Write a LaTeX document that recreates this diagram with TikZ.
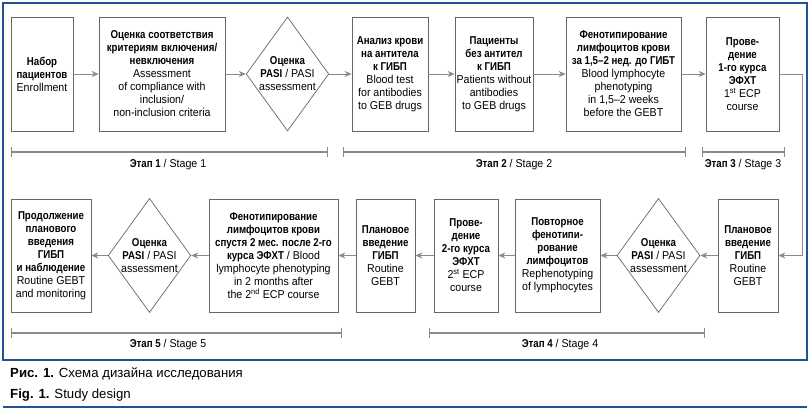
\documentclass[tikz,border=0pt]{standalone}
\usepackage{fontspec}
\setmainfont{Liberation Sans}[FakeStretch=0.93, BoldFeatures={FakeStretch=0.85}]
\newfontfamily\capfont{Liberation Sans}
\usepackage{tikz}
\usetikzlibrary{arrows.meta,shapes.geometric,calc}

\definecolor{frameblue}{HTML}{1F5493}
\definecolor{boxgray}{HTML}{666666}
\definecolor{arrgray}{HTML}{8A8A8A}

\tikzset{
  stepbox/.style={draw=boxgray, line width=0.7pt, align=center, inner sep=0pt,
    minimum height=114pt, font=\fontsize{11.4}{13}\selectfont},
  pasi/.style={draw=boxgray, line width=0.7pt, diamond, align=center, inner sep=-2pt,
    minimum width=81pt, minimum height=114pt, font=\fontsize{11.4}{13}\selectfont},
  flow/.style={draw=arrgray, line width=0.9pt, -{Stealth[length=7pt,width=6pt]}},
  stagebar/.style={draw=arrgray, line width=1.3pt, {Bar[width=10pt]}-{Bar[width=10pt]}},
  stagetext/.style={font=\fontsize{11.4}{13}\selectfont}
}

\begin{document}
\begin{tikzpicture}[x=1pt,y=-1pt]
    \useasboundingbox (0,0) rectangle (811,411);
    % the frame
    \draw[frameblue, line width=1.2pt] (3,360) -- (3,3) -- (807,3) -- (807,360) -- cycle;
    \draw[frameblue, line width=1.2pt] (3,407) -- (807,407);

    % first row of steps
    \node[stepbox, minimum width=62pt] (enroll) at (42,74)
      {\textbf{Набор}\\\textbf{пациентов}\\Enrollment};
    \node[stepbox, minimum width=126pt] (criteria) at (162,74)
      {\textbf{Оценка соответствия}\\\textbf{критериям включения/}\\\textbf{невключения}\\Assessment\\of compliance with\\inclusion/\\non-inclusion criteria};
    \node[pasi] (pasiA) at (287.5,74) {\textbf{Оценка}\\\textbf{PASI} / PASI\\assessment};
    \node[stepbox, minimum width=76pt] (bloodtest) at (390,74)
      {\textbf{Анализ крови}\\\textbf{на антитела}\\\textbf{к ГИБП}\\Blood test\\for antibodies\\to GEB drugs};
    \node[stepbox, minimum width=78pt] (noanti) at (494,74)
      {\textbf{Пациенты}\\\textbf{без антител}\\\textbf{к ГИБП}\\Patients without\\antibodies\\to GEB drugs};
    \node[stepbox, minimum width=115pt] (phenoA) at (623.5,74)
      {\textbf{Фенотипирование}\\\textbf{лимфоцитов крови}\\\textbf{за 1,5–2 нед. до ГИБТ}\\Blood lymphocyte\\phenotyping\\in 1,5–2 weeks\\before the GEBT};
    \node[stepbox, minimum width=73pt] (ecpA) at (742.5,74)
      {\textbf{Прове-}\\\textbf{дение}\\\textbf{1-го курса}\\\textbf{ЭФХТ}\\1\textsuperscript{st} ECP\\course};

    % second row of steps (right to left)
    \node[stepbox, minimum width=60pt, minimum height=113pt] (planA) at (748,255.5)
      {\textbf{Плановое}\\\textbf{введение}\\\textbf{ГИБП}\\Routine\\GEBT};
    \node[pasi, minimum width=83pt] (pasiB) at (658.5,255.5) {\textbf{Оценка}\\\textbf{PASI} / PASI\\assessment};
    \node[stepbox, minimum width=85pt, minimum height=113pt] (rephen) at (557.5,255.5)
      {\textbf{Повторное}\\\textbf{фенотипи-}\\\textbf{рование}\\\textbf{лимфоцитов}\\Rephenotyping\\of lymphocytes};
    \node[stepbox, minimum width=64pt, minimum height=113pt] (ecpB) at (466,255.5)
      {\textbf{Прове-}\\\textbf{дение}\\\textbf{2-го курса}\\\textbf{ЭФХТ}\\2\textsuperscript{st} ECP\\course};
    \node[stepbox, minimum width=59pt, minimum height=113pt] (planB) at (385.5,255.5)
      {\textbf{Плановое}\\\textbf{введение}\\\textbf{ГИБП}\\Routine\\GEBT};
    \node[stepbox, minimum width=129pt, minimum height=113pt] (phenoB) at (273.5,255.5)
      {\textbf{Фенотипирование}\\\textbf{лимфоцитов крови}\\\textbf{спустя 2 мес. после 2-го}\\\textbf{курса ЭФХТ} / Blood\\lymphocyte phenotyping\\in 2 months after\\the 2\textsuperscript{nd} ECP course};
    \node[pasi] (pasiC) at (149.5,255.5) {\textbf{Оценка}\\\textbf{PASI} / PASI\\assessment};
    \node[stepbox, minimum width=80pt, minimum height=113pt] (contin) at (51,255.5)
      {\textbf{Продолжение}\\\textbf{планового}\\\textbf{введения}\\\textbf{ГИБП}\\\textbf{и наблюдение}\\Routine GEBT\\and monitoring};

    % draw the arrows
    \draw[flow] (enroll) -- (criteria);
    \draw[flow] (criteria) -- (pasiA);
    \draw[flow] (pasiA) -- (bloodtest);
    \draw[flow] (bloodtest) -- (noanti);
    \draw[flow] (noanti) -- (phenoA);
    \draw[flow] (phenoA) -- (ecpA);
    \draw[flow] (ecpA.east) -- ++(23,0) |- (planA.east);
    \draw[flow] (planA) -- (pasiB);
    \draw[flow] (pasiB) -- (rephen);
    \draw[flow] (rephen) -- (ecpB);
    \draw[flow] (ecpB) -- (planB);
    \draw[flow] (planB) -- (phenoB);
    \draw[flow] (phenoB) -- (pasiC);
    \draw[flow] (pasiC) -- (contin);

    % the stages
    \coordinate (s1a) at (11,152);  \coordinate (s1b) at (328,152);
    \coordinate (s2a) at (343,152); \coordinate (s2b) at (686,152);
    \coordinate (s3a) at (702,152); \coordinate (s3b) at (785,152);
    \coordinate (s5a) at (11,333);  \coordinate (s5b) at (342,333);
    \coordinate (s4a) at (429,333); \coordinate (s4b) at (705,333);
    \draw[stagebar] (s1a) -- (s1b);
    \draw[stagebar] (s2a) -- (s2b);
    \draw[stagebar] (s3a) -- (s3b);
    \draw[stagebar] (s5a) -- (s5b);
    \draw[stagebar] (s4a) -- (s4b);
    \node[stagetext] (st1) at (168,165) {\textbf{Этап 1} / Stage 1};
    \node[stagetext] (st2) at (514,165) {\textbf{Этап 2} / Stage 2};
    \node[stagetext] (st3) at (743,165) {\textbf{Этап 3} / Stage 3};
    \node[stagetext] (st5) at (168,345) {\textbf{Этап 5} / Stage 5};
    \node[stagetext] (st4) at (560,345) {\textbf{Этап 4} / Stage 4};

    % the caption
    \node[anchor=west, inner sep=0pt, font=\capfont\fontsize{13.2}{15}\selectfont] (cap1) at (10,374)
      {\textbf{Рис. 1.} Схема дизайна исследования};
    \node[anchor=west, inner sep=0pt, font=\capfont\fontsize{13.2}{15}\selectfont] (cap2) at (10,395)
      {\textbf{Fig. 1.} Study design};
\end{tikzpicture}
\end{document}
